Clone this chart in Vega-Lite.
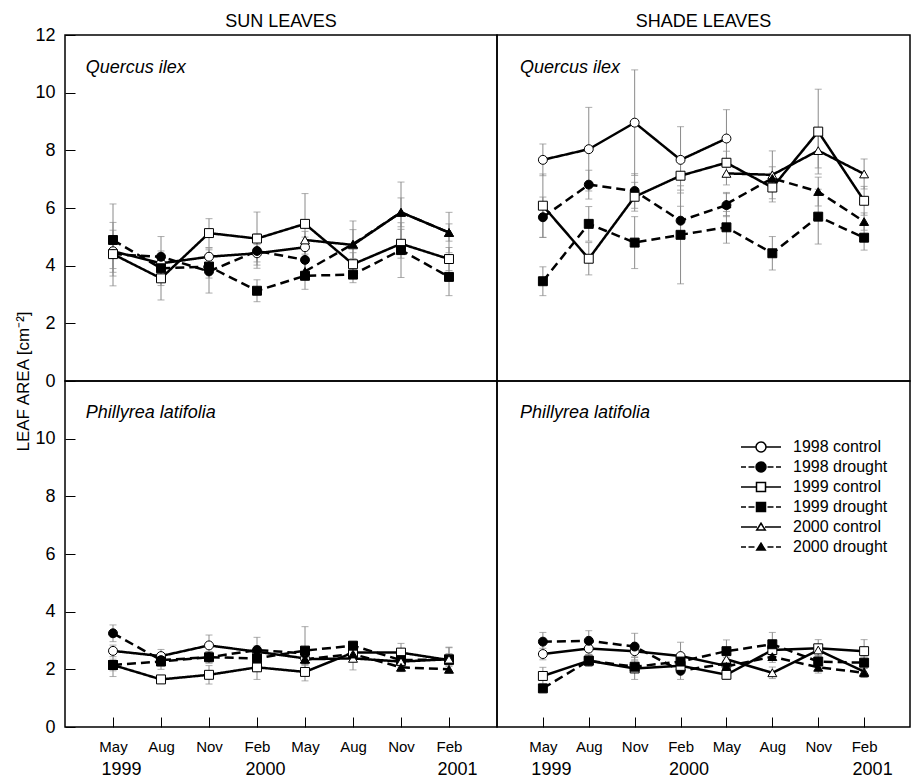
{
  "$schema": "https://vega.github.io/schema/vega-lite/v6.json",
  "background": "white",
  "padding": {"left": 14, "top": 12, "right": 10, "bottom": 0},
  "autosize": {"type": "pad"},
  "columns": 2,
  "spacing": 0,
  "bounds": "flush",
  "datasets": {
    "d": [
      {"p": "a", "s": "1998 control", "t": 0, "v": 4.5, "e": 0.73},
      {"p": "a", "s": "1998 control", "t": 1, "v": 4.08, "e": 0.3},
      {"p": "a", "s": "1998 control", "t": 2, "v": 4.31, "e": 0.3},
      {"p": "a", "s": "1998 control", "t": 3, "v": 4.43, "e": 0.3},
      {"p": "a", "s": "1998 control", "t": 4, "v": 4.64, "e": 0.35},
      {"p": "a", "s": "1998 drought", "t": 0, "v": 4.4, "e": 0.5},
      {"p": "a", "s": "1998 drought", "t": 1, "v": 4.31, "e": 0.7},
      {"p": "a", "s": "1998 drought", "t": 2, "v": 3.8, "e": 0.75},
      {"p": "a", "s": "1998 drought", "t": 3, "v": 4.51, "e": 0.6},
      {"p": "a", "s": "1998 drought", "t": 4, "v": 4.2, "e": 0.4},
      {"p": "a", "s": "1999 control", "t": 0, "v": 4.4, "e": 1.1},
      {"p": "a", "s": "1999 control", "t": 1, "v": 3.56, "e": 0.75},
      {"p": "a", "s": "1999 control", "t": 2, "v": 5.13, "e": 0.5},
      {"p": "a", "s": "1999 control", "t": 3, "v": 4.94, "e": 0.92},
      {"p": "a", "s": "1999 control", "t": 4, "v": 5.45, "e": 1.05},
      {"p": "a", "s": "1999 control", "t": 5, "v": 4.05, "e": 0.4},
      {"p": "a", "s": "1999 control", "t": 6, "v": 4.76, "e": 0.5},
      {"p": "a", "s": "1999 control", "t": 7, "v": 4.23, "e": 0.4},
      {"p": "a", "s": "1999 drought", "t": 0, "v": 4.89, "e": 1.25},
      {"p": "a", "s": "1999 drought", "t": 1, "v": 3.91, "e": 0.6},
      {"p": "a", "s": "1999 drought", "t": 2, "v": 3.97, "e": 0.4},
      {"p": "a", "s": "1999 drought", "t": 3, "v": 3.13, "e": 0.38},
      {"p": "a", "s": "1999 drought", "t": 4, "v": 3.65, "e": 0.47},
      {"p": "a", "s": "1999 drought", "t": 5, "v": 3.69, "e": 0.28},
      {"p": "a", "s": "1999 drought", "t": 6, "v": 4.54, "e": 0.95},
      {"p": "a", "s": "1999 drought", "t": 7, "v": 3.61, "e": 0.65},
      {"p": "a", "s": "2000 control", "t": 4, "v": 4.89, "e": 0.3},
      {"p": "a", "s": "2000 control", "t": 5, "v": 4.72, "e": 0.83},
      {"p": "a", "s": "2000 control", "t": 6, "v": 5.85, "e": 1.05},
      {"p": "a", "s": "2000 control", "t": 7, "v": 5.15, "e": 0.7},
      {"p": "a", "s": "2000 drought", "t": 4, "v": 3.8, "e": 0.3},
      {"p": "a", "s": "2000 drought", "t": 5, "v": 4.75, "e": 0.5},
      {"p": "a", "s": "2000 drought", "t": 6, "v": 5.85, "e": 0.5},
      {"p": "a", "s": "2000 drought", "t": 7, "v": 5.15, "e": 0.3},

      {"p": "b", "s": "1998 control", "t": 0, "v": 7.67, "e": 0.55},
      {"p": "b", "s": "1998 control", "t": 1, "v": 8.04, "e": 1.45},
      {"p": "b", "s": "1998 control", "t": 2, "v": 8.96, "e": 1.83},
      {"p": "b", "s": "1998 control", "t": 3, "v": 7.67, "e": 1.15},
      {"p": "b", "s": "1998 control", "t": 4, "v": 8.41, "e": 1.0},
      {"p": "b", "s": "1998 drought", "t": 0, "v": 5.68, "e": 0.7},
      {"p": "b", "s": "1998 drought", "t": 1, "v": 6.81, "e": 0.5},
      {"p": "b", "s": "1998 drought", "t": 2, "v": 6.59, "e": 0.6},
      {"p": "b", "s": "1998 drought", "t": 3, "v": 5.56, "e": 0.5},
      {"p": "b", "s": "1998 drought", "t": 4, "v": 6.1, "e": 0.4},
      {"p": "b", "s": "1999 control", "t": 0, "v": 6.08, "e": 1.1},
      {"p": "b", "s": "1999 control", "t": 1, "v": 4.24, "e": 0.56},
      {"p": "b", "s": "1999 control", "t": 2, "v": 6.39, "e": 0.5},
      {"p": "b", "s": "1999 control", "t": 3, "v": 7.12, "e": 0.5},
      {"p": "b", "s": "1999 control", "t": 4, "v": 7.57, "e": 0.4},
      {"p": "b", "s": "1999 control", "t": 5, "v": 6.71, "e": 0.5},
      {"p": "b", "s": "1999 control", "t": 6, "v": 8.65, "e": 1.47},
      {"p": "b", "s": "1999 control", "t": 7, "v": 6.25, "e": 0.5},
      {"p": "b", "s": "1999 drought", "t": 0, "v": 3.46, "e": 0.5},
      {"p": "b", "s": "1999 drought", "t": 1, "v": 5.45, "e": 0.6},
      {"p": "b", "s": "1999 drought", "t": 2, "v": 4.8, "e": 0.9},
      {"p": "b", "s": "1999 drought", "t": 3, "v": 5.07, "e": 1.7},
      {"p": "b", "s": "1999 drought", "t": 4, "v": 5.33, "e": 0.55},
      {"p": "b", "s": "1999 drought", "t": 5, "v": 4.43, "e": 0.58},
      {"p": "b", "s": "1999 drought", "t": 6, "v": 5.7, "e": 0.95},
      {"p": "b", "s": "1999 drought", "t": 7, "v": 4.97, "e": 0.43},
      {"p": "b", "s": "2000 control", "t": 4, "v": 7.2, "e": 0.4},
      {"p": "b", "s": "2000 control", "t": 5, "v": 7.15, "e": 0.83},
      {"p": "b", "s": "2000 control", "t": 6, "v": 7.99, "e": 0.6},
      {"p": "b", "s": "2000 control", "t": 7, "v": 7.18, "e": 0.52},
      {"p": "b", "s": "2000 drought", "t": 4, "v": 6.14, "e": 0.4},
      {"p": "b", "s": "2000 drought", "t": 5, "v": 7.03, "e": 0.4},
      {"p": "b", "s": "2000 drought", "t": 6, "v": 6.57, "e": 0.5},
      {"p": "b", "s": "2000 drought", "t": 7, "v": 5.53, "e": 0.3},

      {"p": "c", "s": "1998 control", "t": 0, "v": 2.64, "e": 0.2},
      {"p": "c", "s": "1998 control", "t": 1, "v": 2.46, "e": 0.23},
      {"p": "c", "s": "1998 control", "t": 2, "v": 2.83, "e": 0.36},
      {"p": "c", "s": "1998 control", "t": 3, "v": 2.61, "e": 0.2},
      {"p": "c", "s": "1998 control", "t": 4, "v": 2.38, "e": 0.2},
      {"p": "c", "s": "1998 drought", "t": 0, "v": 3.25, "e": 0.29},
      {"p": "c", "s": "1998 drought", "t": 1, "v": 2.32, "e": 0.2},
      {"p": "c", "s": "1998 drought", "t": 2, "v": 2.42, "e": 0.2},
      {"p": "c", "s": "1998 drought", "t": 3, "v": 2.67, "e": 0.44},
      {"p": "c", "s": "1998 drought", "t": 4, "v": 2.55, "e": 0.2},
      {"p": "c", "s": "1999 control", "t": 0, "v": 2.15, "e": 0.2},
      {"p": "c", "s": "1999 control", "t": 1, "v": 1.65, "e": 0.1},
      {"p": "c", "s": "1999 control", "t": 2, "v": 1.81, "e": 0.32},
      {"p": "c", "s": "1999 control", "t": 3, "v": 2.07, "e": 0.42},
      {"p": "c", "s": "1999 control", "t": 4, "v": 1.91, "e": 0.31},
      {"p": "c", "s": "1999 control", "t": 5, "v": 2.58, "e": 0.2},
      {"p": "c", "s": "1999 control", "t": 6, "v": 2.58, "e": 0.32},
      {"p": "c", "s": "1999 control", "t": 7, "v": 2.32, "e": 0.45},
      {"p": "c", "s": "1999 drought", "t": 0, "v": 2.15, "e": 0.4},
      {"p": "c", "s": "1999 drought", "t": 1, "v": 2.27, "e": 0.27},
      {"p": "c", "s": "1999 drought", "t": 2, "v": 2.42, "e": 0.2},
      {"p": "c", "s": "1999 drought", "t": 3, "v": 2.38, "e": 0.2},
      {"p": "c", "s": "1999 drought", "t": 4, "v": 2.65, "e": 0.83},
      {"p": "c", "s": "1999 drought", "t": 5, "v": 2.82, "e": 0.15},
      {"p": "c", "s": "1999 drought", "t": 6, "v": 2.32, "e": 0.2},
      {"p": "c", "s": "1999 drought", "t": 7, "v": 2.35, "e": 0.2},
      {"p": "c", "s": "2000 control", "t": 4, "v": 2.35, "e": 0.2},
      {"p": "c", "s": "2000 control", "t": 5, "v": 2.38, "e": 0.4},
      {"p": "c", "s": "2000 control", "t": 6, "v": 2.27, "e": 0.2},
      {"p": "c", "s": "2000 control", "t": 7, "v": 2.35, "e": 0.4},
      {"p": "c", "s": "2000 drought", "t": 4, "v": 2.35, "e": 0.2},
      {"p": "c", "s": "2000 drought", "t": 5, "v": 2.53, "e": 0.2},
      {"p": "c", "s": "2000 drought", "t": 6, "v": 2.07, "e": 0.15},
      {"p": "c", "s": "2000 drought", "t": 7, "v": 2.0, "e": 0.1},

      {"p": "d", "s": "1998 control", "t": 0, "v": 2.53, "e": 0.2},
      {"p": "d", "s": "1998 control", "t": 1, "v": 2.72, "e": 0.2},
      {"p": "d", "s": "1998 control", "t": 2, "v": 2.63, "e": 0.2},
      {"p": "d", "s": "1998 control", "t": 3, "v": 2.46, "e": 0.48},
      {"p": "d", "s": "1998 control", "t": 4, "v": 2.12, "e": 0.2},
      {"p": "d", "s": "1998 drought", "t": 0, "v": 2.96, "e": 0.32},
      {"p": "d", "s": "1998 drought", "t": 1, "v": 2.99, "e": 0.35},
      {"p": "d", "s": "1998 drought", "t": 2, "v": 2.79, "e": 0.46},
      {"p": "d", "s": "1998 drought", "t": 3, "v": 1.95, "e": 0.3},
      {"p": "d", "s": "1998 drought", "t": 4, "v": 2.2, "e": 0.2},
      {"p": "d", "s": "1999 control", "t": 0, "v": 1.77, "e": 0.3},
      {"p": "d", "s": "1999 control", "t": 1, "v": 2.3, "e": 0.2},
      {"p": "d", "s": "1999 control", "t": 2, "v": 2.03, "e": 0.38},
      {"p": "d", "s": "1999 control", "t": 3, "v": 2.12, "e": 0.2},
      {"p": "d", "s": "1999 control", "t": 4, "v": 1.81, "e": 0.15},
      {"p": "d", "s": "1999 control", "t": 5, "v": 2.67, "e": 0.2},
      {"p": "d", "s": "1999 control", "t": 6, "v": 2.73, "e": 0.3},
      {"p": "d", "s": "1999 control", "t": 7, "v": 2.63, "e": 0.4},
      {"p": "d", "s": "1999 drought", "t": 0, "v": 1.34, "e": 0.15},
      {"p": "d", "s": "1999 drought", "t": 1, "v": 2.3, "e": 0.2},
      {"p": "d", "s": "1999 drought", "t": 2, "v": 2.09, "e": 0.2},
      {"p": "d", "s": "1999 drought", "t": 3, "v": 2.27, "e": 0.2},
      {"p": "d", "s": "1999 drought", "t": 4, "v": 2.63, "e": 0.39},
      {"p": "d", "s": "1999 drought", "t": 5, "v": 2.87, "e": 0.41},
      {"p": "d", "s": "1999 drought", "t": 6, "v": 2.27, "e": 0.2},
      {"p": "d", "s": "1999 drought", "t": 7, "v": 2.23, "e": 0.2},
      {"p": "d", "s": "2000 control", "t": 4, "v": 2.35, "e": 0.2},
      {"p": "d", "s": "2000 control", "t": 5, "v": 1.88, "e": 0.2},
      {"p": "d", "s": "2000 control", "t": 6, "v": 2.67, "e": 0.2},
      {"p": "d", "s": "2000 control", "t": 7, "v": 1.92, "e": 0.2},
      {"p": "d", "s": "2000 drought", "t": 4, "v": 2.1, "e": 0.2},
      {"p": "d", "s": "2000 drought", "t": 5, "v": 2.44, "e": 0.2},
      {"p": "d", "s": "2000 drought", "t": 6, "v": 2.07, "e": 0.2},
      {"p": "d", "s": "2000 drought", "t": 7, "v": 1.88, "e": 0.15}
    ]
  },
  "resolve": {"scale": {"x": "independent", "y": "independent", "fill": "independent", "shape": "independent", "strokeDash": "independent"}},
  "concat": [
    {
      "width": 432, "height": 346,
      "title": {"text": "SUN LEAVES", "fontSize": 18, "fontWeight": "normal", "offset": -5, "frame": "group"},
      "data": {"name": "d"},
      "transform": [{"filter": "datum.p === 'a'"}],
      "layer": [
        {
          "mark": {"type": "errorbar", "ticks": {"size": 7}, "color": "#8a8a8a", "thickness": 1},
          "encoding": {
            "x": {"field": "t", "type": "quantitative", "scale": {"domain": [-1, 8]}, "axis": null},
            "y": {"field": "v", "type": "quantitative", "scale": {"domain": [0, 12]},
                  "axis": {"values": [0, 2, 4, 6, 8, 10, 12], "tickSize": -10, "labelPadding": 20, "labelFontSize": 18, "zindex": 1,
                           "title": "LEAF AREA [cm⁻²]", "titleFontSize": 17, "titleFontWeight": "normal", "titleY": 346, "titlePadding": 2}},
            "yError": {"field": "e"}
          }
        },
        {
          "mark": {"type": "line", "strokeWidth": 2.5, "color": "black"},
          "encoding": {
            "x": {"field": "t", "type": "quantitative", "scale": {"domain": [-1, 8]}, "axis": null},
            "y": {"field": "v", "type": "quantitative", "scale": {"domain": [0, 12]},
                  "axis": {"values": [0, 2, 4, 6, 8, 10, 12], "tickSize": -10, "labelPadding": 20, "labelFontSize": 18, "zindex": 1,
                           "title": "LEAF AREA [cm⁻²]", "titleFontSize": 17, "titleFontWeight": "normal", "titleY": 346, "titlePadding": 2}},
            "detail": {"field": "s"},
            "strokeDash": {"field": "s", "type": "nominal", "legend": null,
              "scale": {"domain": ["1998 drought", "1998 control", "1999 drought", "1999 control", "2000 drought", "2000 control"], "range": [[9, 5], [1, 0], [9, 5], [1, 0], [9, 5], [1, 0]]}}
          }
        },
        {
          "mark": {"type": "point", "stroke": "black", "strokeWidth": 1, "size": 80, "opacity": 1, "fillOpacity": 1},
          "encoding": {
            "x": {"field": "t", "type": "quantitative", "scale": {"domain": [-1, 8]}, "axis": null},
            "y": {"field": "v", "type": "quantitative", "scale": {"domain": [0, 12]},
                  "axis": {"values": [0, 2, 4, 6, 8, 10, 12], "tickSize": -10, "labelPadding": 20, "labelFontSize": 18, "zindex": 1,
                           "title": "LEAF AREA [cm⁻²]", "titleFontSize": 17, "titleFontWeight": "normal", "titleY": 346, "titlePadding": 2}},
            "shape": {"field": "s", "type": "nominal", "legend": null,
              "scale": {"domain": ["2000 drought", "2000 control", "1999 drought", "1999 control", "1998 drought", "1998 control"], "range": ["triangle-up", "triangle-up", "square", "square", "circle", "circle"]}},
            "fill": {"field": "s", "type": "nominal", "legend": null,
              "scale": {"domain": ["1998 control", "1998 drought", "1999 control", "1999 drought", "2000 control", "2000 drought"], "range": ["white", "black", "white", "black", "white", "black"]}}
          }
        },
        {
          "data": {"values": [{"label": "Quercus ilex"}]},
          "mark": {"type": "text", "fontStyle": "italic", "fontSize": 18, "align": "left", "baseline": "middle", "color": "black"},
          "encoding": {
            "x": {"datum": -0.57, "type": "quantitative", "axis": null},
            "y": {"datum": 10.85, "type": "quantitative",
                  "axis": {"values": [0, 2, 4, 6, 8, 10, 12], "tickSize": -10, "labelPadding": 20, "labelFontSize": 18, "zindex": 1,
                           "title": "LEAF AREA [cm⁻²]", "titleFontSize": 17, "titleFontWeight": "normal", "titleY": 346, "titlePadding": 2}},
            "text": {"field": "label"}
          }
        }
      ]
    },
    {
      "width": 413, "height": 346,
      "title": {"text": "SHADE LEAVES", "fontSize": 18, "fontWeight": "normal", "offset": 4, "frame": "group"},
      "data": {"name": "d"},
      "transform": [{"filter": "datum.p === 'b'"}],
      "layer": [
        {
          "mark": {"type": "errorbar", "ticks": {"size": 7}, "color": "#8a8a8a", "thickness": 1},
          "encoding": {
            "x": {"field": "t", "type": "quantitative", "scale": {"domain": [-1, 7.6]}, "axis": null},
            "y": {"field": "v", "type": "quantitative", "scale": {"domain": [0, 12]}, "axis": null},
            "yError": {"field": "e"}
          }
        },
        {
          "mark": {"type": "line", "strokeWidth": 2.5, "color": "black"},
          "encoding": {
            "x": {"field": "t", "type": "quantitative", "scale": {"domain": [-1, 7.6]}, "axis": null},
            "y": {"field": "v", "type": "quantitative", "scale": {"domain": [0, 12]}, "axis": null},
            "detail": {"field": "s"},
            "strokeDash": {"field": "s", "type": "nominal", "legend": null,
              "scale": {"domain": ["1998 drought", "1998 control", "1999 drought", "1999 control", "2000 drought", "2000 control"], "range": [[9, 5], [1, 0], [9, 5], [1, 0], [9, 5], [1, 0]]}}
          }
        },
        {
          "mark": {"type": "point", "stroke": "black", "strokeWidth": 1, "size": 80, "opacity": 1, "fillOpacity": 1},
          "encoding": {
            "x": {"field": "t", "type": "quantitative", "scale": {"domain": [-1, 7.6]}, "axis": null},
            "y": {"field": "v", "type": "quantitative", "scale": {"domain": [0, 12]}, "axis": null},
            "shape": {"field": "s", "type": "nominal", "legend": null,
              "scale": {"domain": ["2000 drought", "2000 control", "1999 drought", "1999 control", "1998 drought", "1998 control"], "range": ["triangle-up", "triangle-up", "square", "square", "circle", "circle"]}},
            "fill": {"field": "s", "type": "nominal", "legend": null,
              "scale": {"domain": ["1998 control", "1998 drought", "1999 control", "1999 drought", "2000 control", "2000 drought"], "range": ["white", "black", "white", "black", "white", "black"]}}
          }
        },
        {
          "data": {"values": [{"label": "Quercus ilex"}]},
          "mark": {"type": "text", "fontStyle": "italic", "fontSize": 18, "align": "left", "baseline": "middle", "color": "black"},
          "encoding": {
            "x": {"datum": -0.5, "type": "quantitative", "axis": null},
            "y": {"datum": 10.85, "type": "quantitative", "axis": null},
            "text": {"field": "label"}
          }
        }
      ]
    },
    {
      "width": 432, "height": 346,
      "data": {"name": "d"},
      "transform": [{"filter": "datum.p === 'c'"}],
      "resolve": {"axis": {"x": "independent"}},
      "layer": [
        {
          "mark": {"type": "errorbar", "ticks": {"size": 7}, "color": "#8a8a8a", "thickness": 1},
          "encoding": {
            "x": {"field": "t", "type": "quantitative", "scale": {"domain": [-1, 8]}, "axis": null},
            "y": {"field": "v", "type": "quantitative", "scale": {"domain": [0, 12]},
                  "axis": {"values": [0, 2, 4, 6, 8, 10], "tickSize": -10, "labelPadding": 20, "labelFontSize": 18, "zindex": 1, "title": null}},
            "yError": {"field": "e"}
          }
        },
        {
          "mark": {"type": "line", "strokeWidth": 2.5, "color": "black"},
          "encoding": {
            "x": {"field": "t", "type": "quantitative", "scale": {"domain": [-1, 8]},
                  "axis": {"orient": "bottom", "values": [0, 1, 2, 3, 4, 5, 6, 7], "labelExpr": "['May','Aug','Nov','Feb','May','Aug','Nov','Feb'][datum.value]", "tickSize": -10, "labelPadding": 22, "labelFontSize": 15, "labelFlush": false, "zindex": 1, "title": null}},
            "y": {"field": "v", "type": "quantitative", "scale": {"domain": [0, 12]},
                  "axis": {"values": [0, 2, 4, 6, 8, 10], "tickSize": -10, "labelPadding": 20, "labelFontSize": 18, "zindex": 1, "title": null}},
            "detail": {"field": "s"},
            "strokeDash": {"field": "s", "type": "nominal", "legend": null,
              "scale": {"domain": ["1998 drought", "1998 control", "1999 drought", "1999 control", "2000 drought", "2000 control"], "range": [[9, 5], [1, 0], [9, 5], [1, 0], [9, 5], [1, 0]]}}
          }
        },
        {
          "mark": {"type": "point", "stroke": "black", "strokeWidth": 1, "size": 80, "opacity": 1, "fillOpacity": 1},
          "encoding": {
            "x": {"field": "t", "type": "quantitative", "scale": {"domain": [-1, 8]},
                  "axis": {"orient": "bottom", "values": [0, 3, 7], "labelExpr": "datum.value == 0 ? '1999' : datum.value == 3 ? '2000' : '2001'", "ticks": false, "tickSize": 0, "labelPadding": 33, "labelFontSize": 18, "labelOffset": 8, "labelFlush": false, "title": null}},
            "y": {"field": "v", "type": "quantitative", "scale": {"domain": [0, 12]},
                  "axis": {"values": [0, 2, 4, 6, 8, 10], "tickSize": -10, "labelPadding": 20, "labelFontSize": 18, "zindex": 1, "title": null}},
            "shape": {"field": "s", "type": "nominal", "legend": null,
              "scale": {"domain": ["2000 drought", "2000 control", "1999 drought", "1999 control", "1998 drought", "1998 control"], "range": ["triangle-up", "triangle-up", "square", "square", "circle", "circle"]}},
            "fill": {"field": "s", "type": "nominal", "legend": null,
              "scale": {"domain": ["1998 control", "1998 drought", "1999 control", "1999 drought", "2000 control", "2000 drought"], "range": ["white", "black", "white", "black", "white", "black"]}}
          }
        },
        {
          "data": {"values": [{"label": "Phillyrea latifolia"}]},
          "mark": {"type": "text", "fontStyle": "italic", "fontSize": 18, "align": "left", "baseline": "middle", "color": "black"},
          "encoding": {
            "x": {"datum": -0.57, "type": "quantitative", "axis": null},
            "y": {"datum": 10.9, "type": "quantitative",
                  "axis": {"values": [0, 2, 4, 6, 8, 10], "tickSize": -10, "labelPadding": 20, "labelFontSize": 18, "zindex": 1, "title": null}},
            "text": {"field": "label"}
          }
        }
      ]
    },
    {
      "width": 413, "height": 346,
      "data": {"name": "d"},
      "transform": [{"filter": "datum.p === 'd'"}],
      "resolve": {"axis": {"x": "independent"}},
      "layer": [
        {
          "mark": {"type": "errorbar", "ticks": {"size": 7}, "color": "#8a8a8a", "thickness": 1},
          "encoding": {
            "x": {"field": "t", "type": "quantitative", "scale": {"domain": [-1, 7.6]}, "axis": null},
            "y": {"field": "v", "type": "quantitative", "scale": {"domain": [0, 12]}, "axis": null},
            "yError": {"field": "e"}
          }
        },
        {
          "transform": [{"filter": "indexof(datum.s, 'control') >= 0"}],
          "mark": {"type": "line", "strokeWidth": 2.5, "color": "black"},
          "encoding": {
            "x": {"field": "t", "type": "quantitative", "scale": {"domain": [-1, 7.6]},
                  "axis": {"orient": "bottom", "values": [0, 1, 2, 3, 4, 5, 6, 7], "labelExpr": "['May','Aug','Nov','Feb','May','Aug','Nov','Feb'][datum.value]", "tickSize": -10, "labelPadding": 22, "labelFontSize": 15, "labelFlush": false, "zindex": 1, "title": null}},
            "y": {"field": "v", "type": "quantitative", "scale": {"domain": [0, 12]}, "axis": null},
            "detail": {"field": "s"}
          }
        },
        {
          "transform": [{"filter": "indexof(datum.s, 'drought') >= 0"}],
          "mark": {"type": "line", "strokeWidth": 2.5, "color": "black", "strokeDash": [9, 5]},
          "encoding": {
            "x": {"field": "t", "type": "quantitative", "scale": {"domain": [-1, 7.6]},
                  "axis": {"orient": "bottom", "values": [0, 3, 7], "labelExpr": "datum.value == 0 ? '1999' : datum.value == 3 ? '2000' : '2001'", "ticks": false, "tickSize": 0, "labelPadding": 33, "labelFontSize": 18, "labelOffset": 8, "labelFlush": false, "title": null}},
            "y": {"field": "v", "type": "quantitative", "scale": {"domain": [0, 12]}, "axis": null},
            "detail": {"field": "s"}
          }
        },
        {
          "transform": [{"filter": "datum.s === '1998 control'"}],
          "mark": {"type": "point", "shape": "circle", "fill": "white", "stroke": "black", "strokeWidth": 1, "size": 80, "opacity": 1, "fillOpacity": 1},
          "encoding": {
            "x": {"field": "t", "type": "quantitative", "scale": {"domain": [-1, 7.6]}, "axis": null},
            "y": {"field": "v", "type": "quantitative", "scale": {"domain": [0, 12]}, "axis": null}
          }
        },
        {
          "transform": [{"filter": "datum.s === '1998 drought'"}],
          "mark": {"type": "point", "shape": "circle", "fill": "black", "stroke": "black", "strokeWidth": 1, "size": 80, "opacity": 1, "fillOpacity": 1},
          "encoding": {
            "x": {"field": "t", "type": "quantitative", "scale": {"domain": [-1, 7.6]}, "axis": null},
            "y": {"field": "v", "type": "quantitative", "scale": {"domain": [0, 12]}, "axis": null}
          }
        },
        {
          "transform": [{"filter": "datum.s === '1999 control'"}],
          "mark": {"type": "point", "shape": "square", "fill": "white", "stroke": "black", "strokeWidth": 1, "size": 80, "opacity": 1, "fillOpacity": 1},
          "encoding": {
            "x": {"field": "t", "type": "quantitative", "scale": {"domain": [-1, 7.6]}, "axis": null},
            "y": {"field": "v", "type": "quantitative", "scale": {"domain": [0, 12]}, "axis": null}
          }
        },
        {
          "transform": [{"filter": "datum.s === '1999 drought'"}],
          "mark": {"type": "point", "shape": "square", "fill": "black", "stroke": "black", "strokeWidth": 1, "size": 80, "opacity": 1, "fillOpacity": 1},
          "encoding": {
            "x": {"field": "t", "type": "quantitative", "scale": {"domain": [-1, 7.6]}, "axis": null},
            "y": {"field": "v", "type": "quantitative", "scale": {"domain": [0, 12]}, "axis": null}
          }
        },
        {
          "transform": [{"filter": "datum.s === '2000 control'"}],
          "mark": {"type": "point", "shape": "triangle-up", "fill": "white", "stroke": "black", "strokeWidth": 1, "size": 80, "opacity": 1, "fillOpacity": 1},
          "encoding": {
            "x": {"field": "t", "type": "quantitative", "scale": {"domain": [-1, 7.6]}, "axis": null},
            "y": {"field": "v", "type": "quantitative", "scale": {"domain": [0, 12]}, "axis": null}
          }
        },
        {
          "transform": [{"filter": "datum.s === '2000 drought'"}],
          "mark": {"type": "point", "shape": "triangle-up", "fill": "black", "stroke": "black", "strokeWidth": 1, "size": 80, "opacity": 1, "fillOpacity": 1},
          "encoding": {
            "x": {"field": "t", "type": "quantitative", "scale": {"domain": [-1, 7.6]}, "axis": null},
            "y": {"field": "v", "type": "quantitative", "scale": {"domain": [0, 12]}, "axis": null}
          }
        },
        {
          "mark": {"type": "point", "opacity": 0, "stroke": "black", "strokeWidth": 1.5, "size": 100},
          "encoding": {
            "x": {"field": "t", "type": "quantitative", "scale": {"domain": [-1, 7.6]}, "axis": null},
            "y": {"field": "v", "type": "quantitative", "scale": {"domain": [0, 12]}, "axis": null},
            "shape": {"field": "s", "type": "nominal",
              "scale": {"domain": ["1998 control", "1998 drought", "1999 control", "1999 drought", "2000 control", "2000 drought"],
                        "range": ["M-4,0H-1M4,0H1M1,0A1,1 0 1,1 -1,0A1,1 0 1,1 1,0Z", "M-4,0H-3M-2.5,0H-1.3M1.3,0H2.5M3,0H4M1,0A1,1 0 1,1 -1,0A1,1 0 1,1 1,0Z", "M-4,0H-0.9M4,0H0.9M-0.9,-0.9H0.9V0.9H-0.9Z", "M-4,0H-3M-2.5,0H-1.3M1.3,0H2.5M3,0H4M-0.9,-0.9H0.9V0.9H-0.9Z", "M-4,0H-0.8M4,0H0.8M0,-0.75L0.85,0.6H-0.85Z", "M-4,0H-3M-2.5,0H-1.3M1.3,0H2.5M3,0H4M0,-0.75L0.85,0.6H-0.85Z"]},
              "legend": {
                "title": null, "orient": "none", "legendX": 256, "legendY": 58, "padding": 0,
                "symbolSize": 100, "symbolStrokeColor": "black", "symbolStrokeWidth": 1.5, "symbolOpacity": 1,
                "labelFontSize": 16, "labelOffset": 24, "rowPadding": 4, "labelColor": "black",
                "encode": {"symbols": {"update": {"stroke": {"value": "black"}, "strokeWidth": {"value": 1.5}, "opacity": {"value": 1}}}}
              }},
            "fill": {"field": "s", "type": "nominal",
              "scale": {"domain": ["1998 control", "1998 drought", "1999 control", "1999 drought", "2000 control", "2000 drought"], "range": ["white", "black", "white", "black", "white", "black"]},
              "legend": {
                "title": null, "orient": "none", "legendX": 256, "legendY": 58, "padding": 0,
                "symbolSize": 100, "symbolStrokeColor": "black", "symbolStrokeWidth": 1.5, "symbolOpacity": 1,
                "labelFontSize": 16, "labelOffset": 24, "rowPadding": 4, "labelColor": "black",
                "encode": {"symbols": {"update": {"stroke": {"value": "black"}, "strokeWidth": {"value": 1.5}, "opacity": {"value": 1}}}}
              }}
          }
        },
        {
          "data": {"values": [{"label": "Phillyrea latifolia"}]},
          "mark": {"type": "text", "fontStyle": "italic", "fontSize": 18, "align": "left", "baseline": "middle", "color": "black"},
          "encoding": {
            "x": {"datum": -0.5, "type": "quantitative", "axis": null},
            "y": {"datum": 10.9, "type": "quantitative", "axis": null},
            "text": {"field": "label"}
          }
        }
      ]
    }
  ],
  "config": {
    "font": "Liberation Sans",
    "view": {"stroke": "black", "strokeWidth": 1.5},
    "axis": {"domain": false, "grid": false, "tickColor": "black", "labelColor": "black", "titleColor": "black", "tickWidth": 1},
    "title": {"color": "black"},
    "text": {"font": "Liberation Sans"}
  }
}
